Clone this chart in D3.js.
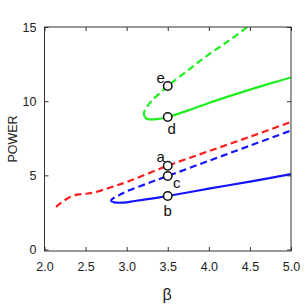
<!DOCTYPE html>
<html><head><meta charset="utf-8">
<script src="https://cdn.jsdelivr.net/npm/d3@7"></script>
<style>body{margin:0;background:#fff}svg{display:block}</style>
</head><body>
<svg id="c" width="304" height="306"></svg>
<script>
const xTicks = [2.0, 2.5, 3.0, 3.5, 4.0, 4.5, 5.0];
const yTicks = [0, 5, 10, 15];
const redDashed = [[2.14,2.87],[2.2,3.15],[2.3,3.5],[2.4,3.7],[2.5,3.76],[2.6,3.84],[2.8,4.18],[3.0,4.55],[3.5,5.65],[4.0,6.63],[4.5,7.6],[5.0,8.6]];
const blueDashed = [[2.83,3.2],[2.81,3.3],[2.85,3.5],[2.92,3.7],[3.0,3.92],[3.25,4.45],[3.5,4.96],[4.0,5.98],[4.5,7.0],[5.0,8.02]];
const blueSolid = [[2.83,3.2],[2.87,3.16],[2.95,3.16],[3.1,3.27],[3.3,3.43],[3.5,3.61],[4.0,4.1],[4.5,4.58],[5.0,5.08]];
const greenDashed = [[3.22,8.95],[3.21,9.2],[3.24,9.55],[3.3,10.0],[3.4,10.52],[3.5,11.02],[3.75,12.1],[4.0,13.15],[4.25,14.1],[4.47,15.0]];
const greenSolid = [[3.22,8.95],[3.25,8.8],[3.33,8.77],[3.42,8.83],[3.5,8.93],[3.75,9.38],[4.0,9.88],[4.25,10.34],[4.5,10.78],[4.75,11.2],[5.0,11.6]];
const markers = [[3.5,5.65,"a"],[3.5,3.61,"b"],[3.5,4.96,"c"],[3.5,8.93,"d"],[3.5,11.02,"e"]];
const labelOffsets = {a:[-7,-9],b:[0,15],c:[9,7],d:[4,12],e:[-7,-8]};

const svg = d3.select("#c");
const x = d3.scaleLinear().domain([2,5]).range([44.5,291]);
const y = d3.scaleLinear().domain([-0.1,15]).range([251,27]);
const font = "Liberation Sans, Arial, sans-serif";

svg.append("defs").append("clipPath").attr("id","clip").append("rect")
  .attr("x",44.5).attr("y",27).attr("width",246.5).attr("height",224);

const line = d3.line().x(d=>x(d[0])).y(d=>y(d[1])).curve(d3.curveCatmullRom.alpha(0.5));
const g = svg.append("g").attr("clip-path","url(#clip)");
const series = [
  [redDashed,"#ff1c1c",true],
  [blueDashed,"#1414ff",true],
  [blueSolid,"#1414ff",false],
  [greenDashed,"#1eee1e",true],
  [greenSolid,"#1eee1e",false]
];
series.forEach(([d,c,dash])=>{
  g.append("path").datum(d).attr("d",line).attr("fill","none")
   .attr("stroke",c).attr("stroke-width",2.2)
   .attr("stroke-dasharray",dash?"7,4":null);
});

// frame
svg.append("rect").attr("x",44.5).attr("y",27).attr("width",246.5).attr("height",224)
  .attr("fill","none").attr("stroke","#333").attr("stroke-width",1);

// axes
const xb = svg.append("g").attr("transform","translate(0,251)")
  .call(d3.axisBottom(x).tickValues(xTicks).tickFormat(d3.format(".1f")).tickSizeInner(-4).tickSizeOuter(0).tickPadding(11));
const xt = svg.append("g").attr("transform","translate(0,27)")
  .call(d3.axisTop(x).tickValues(xTicks).tickFormat("").tickSizeInner(-4).tickSizeOuter(0));
const yl = svg.append("g").attr("transform","translate(44.5,0)")
  .call(d3.axisLeft(y).tickValues(yTicks).tickSizeInner(-4).tickSizeOuter(0).tickPadding(8));
const yr = svg.append("g").attr("transform","translate(291,0)")
  .call(d3.axisRight(y).tickValues(yTicks).tickFormat("").tickSizeInner(-4).tickSizeOuter(0));
[xb,xt,yl,yr].forEach(a=>{
  a.select(".domain").remove();
  a.selectAll(".tick line").attr("stroke","#333");
  a.selectAll("text").attr("font-family",font).attr("font-size",12.5).attr("fill","#222");
});

// markers
markers.forEach(([b,p,l])=>{
  svg.append("circle").attr("cx",x(b)).attr("cy",y(p)).attr("r",4.2)
    .attr("fill","#fff").attr("stroke","#111").attr("stroke-width",1.5);
  const o = labelOffsets[l];
  svg.append("text").attr("x",x(b)+o[0]).attr("y",y(p)+o[1]).attr("dy","0.35em")
    .attr("text-anchor","middle").attr("font-family",font).attr("font-size",15)
    .attr("fill","#111").text(l);
});

svg.append("text").attr("transform","translate(17,139) rotate(-90)")
  .attr("text-anchor","middle").attr("font-family",font).attr("font-size",12.5).attr("fill","#222").text("POWER");
svg.append("text").attr("x",167).attr("y",300).attr("text-anchor","middle")
  .attr("font-family",font).attr("font-size",16).attr("fill","#222").text("β");
</script>
</body></html>
